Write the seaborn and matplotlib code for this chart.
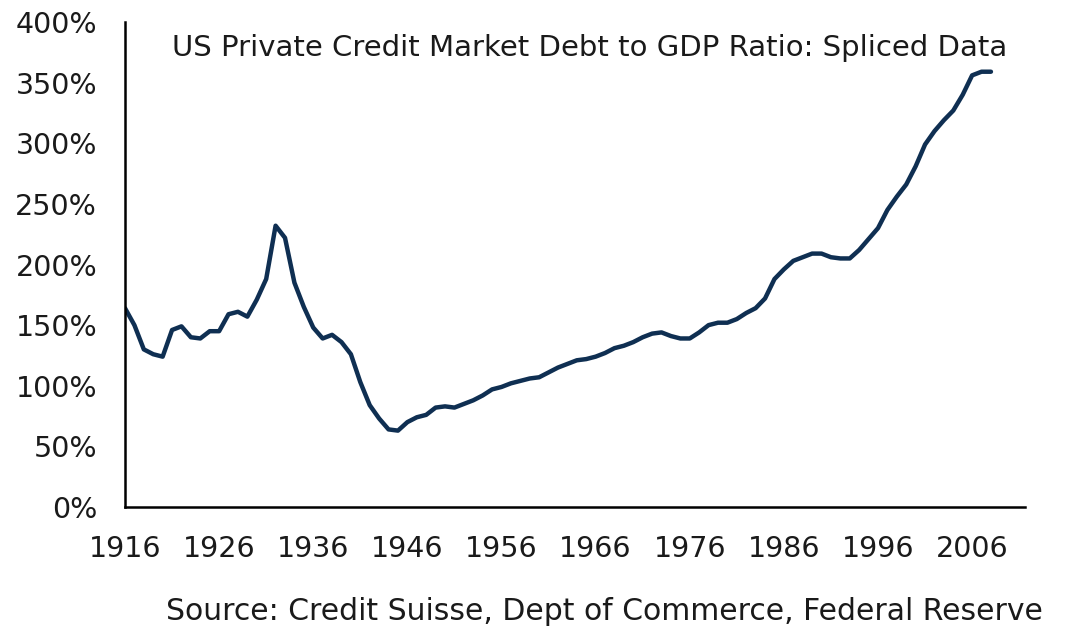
import numpy as np
import pandas as pd
import seaborn as sns
import matplotlib.pyplot as plt
from matplotlib.ticker import FuncFormatter

# private credit market debt / GDP, %
years = list(range(1916, 2009))
ratio = [164, 150, 130, 126, 124, 146, 149, 140, 139, 145,
         145, 159, 161, 157, 171, 188, 232, 222, 185, 165,
         148, 139, 142, 136, 126, 103, 84, 73, 64, 63,
         70, 74, 76, 82, 83, 82, 85, 88, 92, 97,
         99, 102, 104, 106, 107, 111, 115, 118, 121, 122,
         124, 127, 131, 133, 136, 140, 143, 144, 141, 139,
         139, 144, 150, 152, 152, 155, 160, 164, 172, 188,
         196, 203, 206, 209, 209, 206, 205, 205, 212, 221,
         230, 245, 256, 266, 281, 299, 310, 319, 327, 340,
         356, 359, 359]
x_ticks = list(range(1916, 2007, 10))
y_ticks = list(range(0, 401, 50))

df = pd.DataFrame({'year': years, 'ratio': ratio})

sns.set_style('white')
plt.rcParams['font.family'] = ['DejaVu Sans']

fig = plt.figure(figsize=(10.72, 6.34), dpi=100)
ax = fig.add_axes([0.1166, 0.2003, 0.8394, 0.765])

sns.lineplot(data=df, x='year', y='ratio', ax=ax, color='#0f2f52', linewidth=3.2)

ax.set_xlim(1916, 2011.6)
ax.set_ylim(0, 400)
ax.set_xticks(x_ticks)
ax.set_yticks(y_ticks)
ax.yaxis.set_major_formatter(FuncFormatter(lambda v, p: f'{v:.0f}%'))
ax.set_xlabel('')
ax.set_ylabel('')

for s in ['top', 'right']:
    ax.spines[s].set_visible(False)
for s in ['left', 'bottom']:
    ax.spines[s].set_color('black')
    ax.spines[s].set_linewidth(1.8)

ax.tick_params(axis='both', direction='out', length=6, width=1.8, color='black',
               labelsize=20.5, labelcolor='#1a1a1a')
ax.tick_params(axis='x', pad=14)
ax.tick_params(axis='y', pad=14)

fig.text(0.160, 0.925, 'US Private Credit Market Debt to GDP Ratio: Spliced Data',
         fontsize=21, color='#1a1a1a', ha='left', va='center')
fig.text(0.155, 0.035, 'Source: Credit Suisse, Dept of Commerce, Federal Reserve',
         fontsize=21.5, color='#1a1a1a', ha='left', va='center')

fig.savefig('out.png', dpi=100, facecolor='white')
